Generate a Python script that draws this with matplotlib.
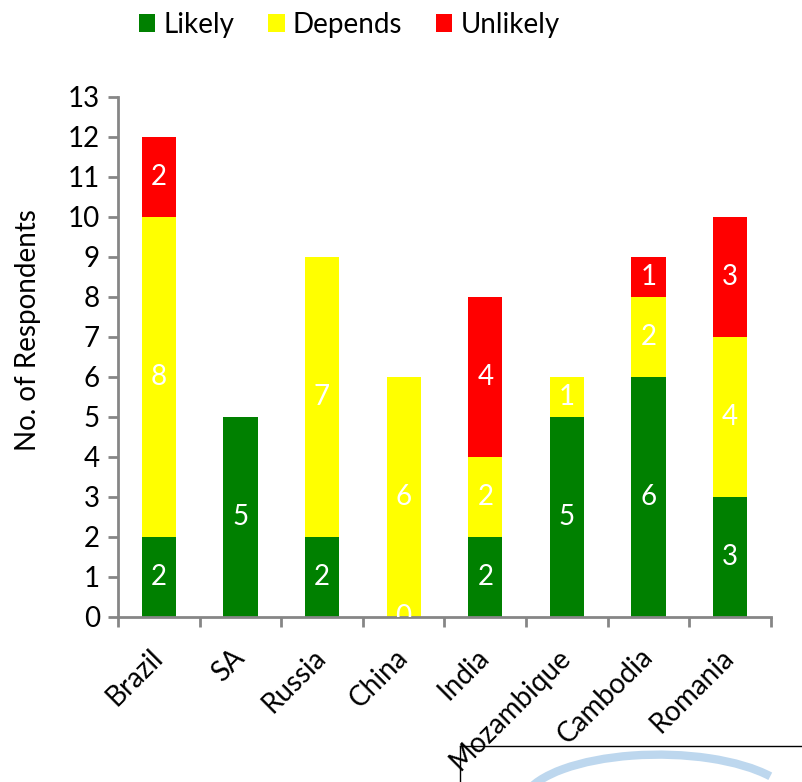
import numpy as np
import matplotlib.pyplot as plt
from matplotlib.lines import Line2D
from matplotlib.patches import Arc

plt.rcParams['font.family'] = ['Lato', 'DejaVu Sans']

# datos
paises = ['Brazil', 'SA', 'Russia', 'China', 'India', 'Mozambique', 'Cambodia', 'Romania']
likely = [2, 5, 2, 0, 2, 5, 6, 3]
depends = [8, 0, 7, 6, 2, 1, 2, 4]
unlikely = [2, 0, 0, 0, 4, 0, 1, 3]

series = [('Likely', likely, '#008000'),
          ('Depends', depends, '#FFFF00'),
          ('Unlikely', unlikely, '#FF0000')]

fs = 20

fig = plt.figure(figsize=(8.03, 7.82), dpi=100)
ax = fig.add_axes([0.147, 0.211, 0.813, 0.665])

x = np.arange(len(paises))
base = np.zeros(len(paises))
for nombre, vals, color in series:
    vals = np.array(vals, dtype=float)
    ax.bar(x, vals, 0.42, bottom=base, color=color, label=nombre)
    for i, v in enumerate(vals):
        if v > 0 or nombre == 'Likely':
            ax.text(x[i], base[i] + v / 2, f'{int(v)}', ha='center', va='center',
                    color='white', fontsize=fs, clip_on=True)
    base += vals

ax.set_xlim(-0.5, len(paises) - 0.5)
ax.set_ylim(0, 13)
ax.set_yticks(range(0, 14))
ax.set_xticks(np.arange(-0.5, len(paises), 1))
ax.set_xticklabels([])
ax.set_xticks(x, minor=True)
ax.set_xticklabels(paises, minor=True, rotation=45, ha='right', va='center',
                   rotation_mode='anchor', fontsize=fs)
ax.tick_params(axis='x', which='minor', length=0, pad=26)
ax.tick_params(axis='x', which='major', length=7, width=2, color='#868686')
ax.tick_params(axis='y', length=7, width=2, color='#868686', labelsize=fs, pad=6)
ax.set_ylabel('No. of Respondents', fontsize=fs)
ax.yaxis.set_label_coords(-0.118, 0.552)

for s in ['top', 'right']:
    ax.spines[s].set_visible(False)
for s in ['left', 'bottom']:
    ax.spines[s].set_color('#868686')
    ax.spines[s].set_linewidth(2)

fig.legend(loc='center', bbox_to_anchor=(0.435, 0.968), ncol=3, frameon=False,
           fontsize=fs, handlelength=0.6, handleheight=0.6, handletextpad=0.3,
           columnspacing=1.2)

# recuadro recortado abajo a la derecha
fig.add_artist(Line2D([460 / 803, 1], [1 - 746 / 782] * 2, color='black', lw=1))
fig.add_artist(Line2D([460 / 803] * 2, [0, 1 - 746 / 782], color='black', lw=1))
fig.add_artist(Arc((0.82, -0.03), 0.34, 0.13, theta1=15, theta2=175,
                   transform=fig.transFigure, color='#BDD7EE', lw=6))

fig.savefig('out.png', dpi=100)
